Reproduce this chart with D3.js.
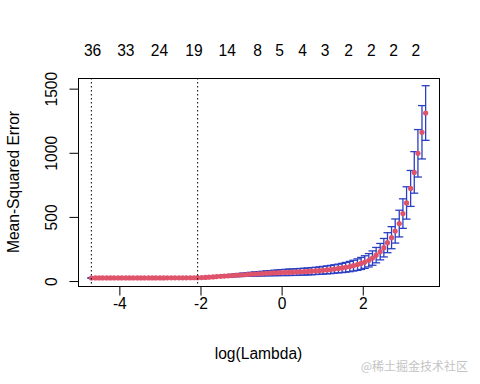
<!DOCTYPE html>
<html>
<head>
<meta charset="utf-8">
<script src="https://cdn.jsdelivr.net/npm/d3@7"></script>
<style>
    body { margin: 0; background: #fff; }
    text { font-family: "Liberation Sans", Arial, sans-serif; }
</style>
</head>
<body>
<svg id="chart" width="480" height="384"></svg>
<script>
// log(lambda) grid, largest lambda first (as glmnet gives it)
var logLambda = [3.55, 3.46, 3.36, 3.27, 3.18, 3.08, 2.99, 2.90, 2.80, 2.71,
    2.61, 2.52, 2.43, 2.33, 2.24, 2.15, 2.05, 1.96, 1.87, 1.77,
    1.68, 1.58, 1.49, 1.40, 1.30, 1.21, 1.12, 1.02, 0.93, 0.84,
    0.74, 0.65, 0.56, 0.46, 0.37, 0.27, 0.18, 0.09, -0.01, -0.10,
    -0.19, -0.29, -0.38, -0.48, -0.57, -0.66, -0.76, -0.85, -0.94, -1.04,
    -1.13, -1.22, -1.32, -1.41, -1.50, -1.60, -1.69, -1.79, -1.88, -1.97,
    -2.07, -2.16, -2.25, -2.35, -2.44, -2.53, -2.63, -2.72, -2.82, -2.91,
    -3.00, -3.10, -3.19, -3.28, -3.38, -3.47, -3.56, -3.66, -3.75, -3.84,
    -3.94, -4.03, -4.13, -4.22, -4.31, -4.41, -4.50, -4.59, -4.69];

// mean cross-validated error
var cvm = [1310, 1160, 996, 847, 722, 609, 526, 448, 390, 338,
    299, 260, 229, 202, 179, 162, 148, 137, 128, 120,
    113, 107, 102, 98, 94, 90, 87, 84, 81, 79,
    77, 75, 73, 72, 70, 69, 68, 67, 66, 64,
    63, 61, 60, 58, 56, 55, 53, 51, 49, 47,
    45, 43, 41, 39, 37, 35, 32, 30, 28.5, 27.2,
    26.3, 25.8, 25.5, 25.3, 25.1, 25.0, 24.9, 24.8, 24.7, 24.6,
    24.6, 24.5, 24.5, 24.4, 24.4, 24.3, 24.3, 24.3, 24.2, 24.2,
    24.2, 24.1, 24.1, 24.1, 24.1, 24.0, 24.0, 23.95, 23.9];

// standard error of cvm
var cvsd = [213, 208, 185, 162, 140, 126, 115, 104, 94, 86,
    78, 72, 64, 60, 56, 52, 49, 47, 45, 42,
    40, 38, 36, 34, 33, 32, 31, 30, 29, 28,
    28, 27, 27, 26, 26, 25, 25, 24, 23, 22,
    21, 20, 19, 18, 17, 16, 15, 14, 13, 12,
    11, 10, 9, 8, 7, 6, 5, 4, 3.5, 3,
    2.5, 2.5, 2.5, 2.5, 2.5, 2.5, 2.5, 2.5, 2.5, 2.5,
    2.5, 2.5, 2.5, 2.5, 2.5, 2.5, 2.5, 2.5, 2.5, 2.5,
    2.5, 2.5, 2.5, 2.5, 2.5, 2.5, 2.5, 2.5, 2.5];

// number of nonzero coefficients shown on top
var nzAt = [-4.66, -3.84, -3.01, -2.16, -1.34, -0.59, -0.05, 0.52, 1.07, 1.65, 2.21, 2.76, 3.31];
var nzLabels = ["36", "33", "24", "19", "14", "8", "5", "4", "3", "2", "2", "2", "2"];

var xTicks = [-4, -2, 0, 2];
var yTicks = [0, 500, 1000, 1500];

var margin = {left: 78, right: 41, top: 78, bottom: 98};
var W = 480, H = 384;
var fs = "15.6px";

var svg = d3.select("#chart");

var cvup = cvm.map(function(d, i) { return d + cvsd[i]; });
var cvlo = cvm.map(function(d, i) { return d - cvsd[i]; });

// R style 4% padding of the ranges
function pad(ext) {
    var r = ext[1] - ext[0];
    return [ext[0] - 0.04 * r, ext[1] + 0.04 * r];
}

var x = d3.scaleLinear()
    .domain(pad(d3.extent(logLambda)))
    .range([margin.left, W - margin.right]);
var y = d3.scaleLinear()
    .domain(pad([d3.min(cvlo), d3.max(cvup)]))
    .range([H - margin.bottom, margin.top]);

var barColor = "#2a3fc2";
var ptColor = "#df536b";

// error bars
var bars = svg.append("g")
    .attr("stroke", barColor)
    .attr("stroke-width", 1.3)
    .attr("fill", "none");
logLambda.forEach(function(d, i) {
    var cx = x(d);
    bars.append("line")
        .attr("x1", cx).attr("x2", cx)
        .attr("y1", y(cvup[i])).attr("y2", y(cvlo[i]));
    bars.append("line")
        .attr("x1", cx - 4).attr("x2", cx + 4)
        .attr("y1", y(cvup[i])).attr("y2", y(cvup[i]));
    bars.append("line")
        .attr("x1", cx - 4).attr("x2", cx + 4)
        .attr("y1", y(cvlo[i])).attr("y2", y(cvlo[i]));
});

// points
svg.append("g")
    .selectAll("circle")
    .data(logLambda)
    .enter()
    .append("circle")
    .attr("cx", function(d) { return x(d); })
    .attr("cy", function(d, i) { return y(cvm[i]); })
    .attr("r", 2.6)
    .style("fill", ptColor);

// lambda.min and lambda.1se
var iMin = d3.minIndex(cvm);
var thresh = cvm[iMin] + cvsd[iMin];
var i1se = cvm.findIndex(function(d) { return d <= thresh; });
[iMin, i1se].forEach(function(i) {
    svg.append("line")
        .attr("x1", x(logLambda[i])).attr("x2", x(logLambda[i]))
        .attr("y1", margin.top).attr("y2", H - margin.bottom)
        .attr("stroke", "#000")
        .attr("stroke-width", 1)
        .attr("stroke-dasharray", "1.5,2.5");
});

// box
svg.append("rect")
    .attr("x", margin.left + 0.5)
    .attr("y", margin.top + 0.5)
    .attr("width", W - margin.left - margin.right)
    .attr("height", H - margin.top - margin.bottom)
    .attr("fill", "none")
    .attr("stroke", "#000")
    .attr("stroke-width", 1);

// bottom axis
var xAxis = svg.append("g")
    .attr("transform", "translate(0," + (H - margin.bottom + 0.5) + ")")
    .call(d3.axisBottom(x).tickValues(xTicks).tickSize(9).tickPadding(2)
        .tickFormat(function(d) { return d < 0 ? "-" + Math.abs(d) : d; }));
xAxis.select(".domain").remove();
xAxis.selectAll("text").attr("font-size", fs).attr("fill", "#000")
    .attr("font-family", "Liberation Sans, Arial, sans-serif");

// left axis, labels parallel to the axis
var yAxis = svg.append("g")
    .attr("transform", "translate(" + (margin.left + 0.5) + ",0)")
    .call(d3.axisLeft(y).tickValues(yTicks).tickSize(9).tickFormat(d3.format("d")));
yAxis.select(".domain").remove();
yAxis.selectAll("text").remove();
yAxis.selectAll(".tick").append("text")
    .attr("transform", "translate(-22,0) rotate(-90)")
    .attr("text-anchor", "middle")
    .attr("font-size", fs)
    .attr("fill", "#000")
    .text(function(d) { return d; });

// top labels
svg.append("g")
    .selectAll("text")
    .data(nzAt)
    .enter()
    .append("text")
    .attr("x", function(d) { return x(d); })
    .attr("y", 56)
    .attr("text-anchor", "middle")
    .attr("font-size", fs)
    .text(function(d, i) { return nzLabels[i]; });

// axis titles
svg.append("text")
    .attr("x", (margin.left + W - margin.right) / 2)
    .attr("y", 359)
    .attr("text-anchor", "middle")
    .attr("font-size", fs)
    .text("log(Lambda)");
svg.append("text")
    .attr("transform", "translate(19," + ((margin.top + H - margin.bottom) / 2) + ") rotate(-90)")
    .attr("text-anchor", "middle")
    .attr("font-size", fs)
    .text("Mean-Squared Error");

// watermark
svg.append("text")
    .attr("x", 468)
    .attr("y", 371)
    .attr("text-anchor", "end")
    .attr("font-size", "12px")
    .attr("fill", "#c4c4c4")
    .style("font-family", "Noto Sans CJK SC, sans-serif")
    .text("@稀土掘金技术社区");
</script>
</body>
</html>
